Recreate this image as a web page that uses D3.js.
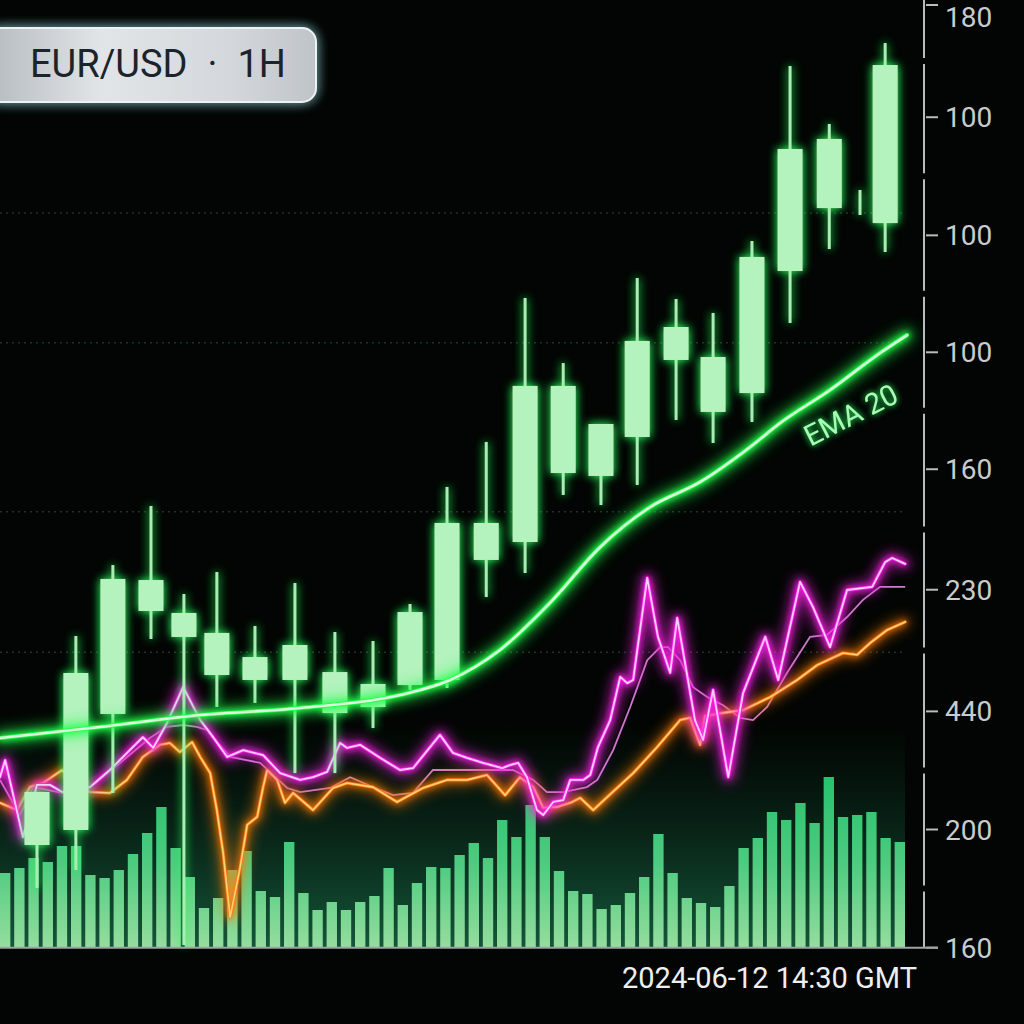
<!DOCTYPE html>
<html>
<head>
<meta charset="utf-8">
<script src="https://cdn.jsdelivr.net/npm/d3@7"></script>
<style>
  html, body { margin: 0; padding: 0; background: #010302; }
  svg { display: block; }
</style>
</head>
<body>
<div id="chart"></div>
<script>

// candles: hour slot and OHLC (price units)
let slots  = [0, 1.05, 2.05, 3.08, 3.97, 4.86, 5.89, 6.97, 8.05, 9.08, 10.08, 11.08, 12.14, 13.19, 14.22, 15.24, 16.22, 17.27, 18.27, 19.32, 20.35, 21.41, 22.24, 22.92];
let opens  = [8.89, 10.16, 19.98, 28.70, 26.50, 23.28, 22.86, 22.86, 20.06, 20.57, 22.43, 22.86, 33.02, 34.54, 40.38, 40.13, 43.43, 49.95, 45.55, 47.15, 57.48, 62.81, 63.3, 61.54];
let closes = [13.38, 23.45, 31.41, 31.32, 28.53, 26.84, 24.80, 25.82, 23.53, 22.52, 28.61, 36.15, 36.15, 47.75, 47.75, 44.53, 51.56, 52.74, 50.20, 58.67, 67.81, 68.66, 63.3, 74.92];
let highs  = [13.38, 26.58, 32.59, 37.59, 30.14, 32.0, 27.43, 31.07, 26.92, 26.16, 29.29, 39.20, 43.01, 55.20, 49.69, 44.53, 56.89, 55.11, 53.93, 60.02, 74.84, 69.93, 64.34, 76.78];
let lows   = [5.25, 6.77, 13.29, 26.33, 0.42, 20.57, 20.91, 14.98, 14.98, 18.79, 22.01, 22.18, 29.88, 31.92, 38.52, 37.67, 39.37, 44.87, 42.92, 44.70, 53.08, 59.34, 62.22, 59.09];

// EMA 20
let emaSlots  = [-1.0, 1.70, 4.41, 7.11, 9.81, 11.16, 12.51, 13.86, 15.22, 16.57, 17.92, 19.27, 20.08, 21.43, 22.78, 23.51];
let emaValues = [17.95, 18.88, 19.89, 20.49, 21.59, 22.86, 25.40, 29.38, 34.12, 37.50, 39.62, 42.58, 44.61, 47.41, 50.54, 52.06];

// oscillator (magenta), its signal (thin pink) and the orange line, 0-100
let magSlots  = [-1.00, -0.86, -0.38, 0, 0.35, 0.68, 1.43, 1.97, 2.86, 3.14, 3.51, 3.95, 4.41, 4.76, 5.14, 5.57, 6.11, 6.57, 7.11, 7.46, 7.84, 8.19, 8.38, 8.73, 9.27, 9.81, 10.16, 10.89, 11.24, 11.62, 12.05, 12.57, 12.78, 13.00, 13.24, 13.51, 13.68, 13.95, 14.22, 14.41, 14.76, 14.95, 15.16, 15.49, 15.76, 15.95, 16.11, 16.49, 16.78, 17.11, 17.30, 17.78, 18.00, 18.27, 18.68, 19.08, 19.68, 20.03, 20.62, 20.97, 21.43, 21.89, 22.57, 22.92, 23.11, 23.46];
let magValues = [38.4, 42.2, 25.1, 36.7, 36.7, 35.1, 36.2, 40.0, 47.3, 44.9, 50.4, 58.4, 51.1, 47.3, 42.9, 44.4, 43.3, 39.3, 37.8, 38.4, 39.6, 46.0, 44.9, 45.6, 42.7, 40.0, 40.4, 47.8, 43.8, 42.7, 41.6, 40.4, 41.1, 41.6, 38.4, 31.1, 30.0, 32.9, 33.3, 37.8, 37.8, 38.9, 45.1, 51.1, 60.7, 59.3, 60.0, 82.7, 69.6, 61.6, 73.8, 51.1, 46.7, 57.8, 38.4, 57.1, 69.6, 60.0, 81.8, 76.2, 67.3, 80.0, 80.7, 86.2, 87.1, 85.8];

let sigSlots  = [-1.00, -0.46, -0.11, 0.68, 1.43, 3.05, 3.51, 3.95, 4.32, 4.59, 5.22, 6.03, 6.76, 7.11, 7.92, 8.46, 9.08, 9.62, 10.16, 10.70, 11.35, 11.97, 12.86, 13.41, 13.78, 14.22, 14.86, 15.14, 15.57, 16.03, 16.49, 16.84, 17.05, 17.38, 17.73, 18.11, 18.54, 19.00, 19.35, 19.73, 20.27, 20.89, 21.35, 21.89, 22.32, 22.78, 23.46];
let sigValues = [37.8, 30.0, 36.2, 34.9, 36.0, 47.1, 49.6, 50.0, 49.6, 48.9, 42.9, 41.6, 36.0, 35.1, 36.0, 38.4, 36.2, 34.4, 34.9, 40.0, 40.0, 40.0, 40.0, 37.8, 35.1, 35.1, 36.2, 37.8, 44.4, 54.0, 64.4, 67.3, 67.3, 64.4, 58.4, 56.2, 54.4, 51.6, 51.1, 54.0, 61.6, 69.6, 70.0, 74.0, 77.8, 80.7, 80.7];

let orSlots  = [-1.00, -0.54, -0.19, 0.16, 0.68, 0.81, 1.43, 1.97, 2.43, 2.86, 3.32, 3.59, 3.86, 4.19, 4.41, 4.68, 4.86, 5.03, 5.22, 5.49, 5.68, 5.95, 6.11, 6.22, 6.49, 6.70, 6.92, 7.46, 8.00, 8.38, 9.08, 9.73, 10.43, 11.08, 11.62, 12.16, 12.65, 13.05, 13.41, 13.68, 14.05, 14.41, 14.68, 15.03, 15.41, 16.11, 16.76, 17.38, 17.65, 17.92, 18.05, 18.54, 19.08, 19.81, 20.54, 21.08, 21.78, 22.16, 22.51, 22.97, 23.46];
let orValues = [32.7, 31.1, 36.2, 37.1, 40.0, 38.9, 35.1, 34.9, 37.8, 42.9, 45.6, 46.0, 44.0, 46.2, 42.9, 39.3, 31.1, 21.6, 7.3, 18.4, 27.8, 29.6, 36.2, 40.0, 37.8, 32.7, 34.9, 31.1, 36.0, 37.1, 36.2, 32.9, 36.0, 37.8, 37.8, 38.9, 34.4, 38.4, 36.2, 31.6, 31.8, 32.7, 33.8, 31.1, 34.0, 39.3, 45.1, 51.1, 51.6, 45.6, 52.0, 52.7, 53.3, 56.2, 60.0, 63.3, 66.0, 65.6, 68.2, 71.1, 72.9];

// volume bars
let volumes = [750, 800, 900, 860, 1020, 1020, 730, 700, 780, 940,
               1150, 1410, 1000, 710, 400, 500, 780, 970, 570, 510,
               1060, 550, 380, 460, 380, 460, 520, 800, 430, 650,
               810, 800, 930, 1050, 900, 1280, 1110, 1430, 1110, 770,
               570, 540, 390, 430, 550, 710, 1140, 750, 500, 450,
               410, 620, 1000, 1100, 1360, 1280, 1450, 1250, 1710, 1310,
               1330, 1360, 1100, 1060];

// right axis
let tickValues = [0.2, 10.2, 20.2, 30.5, 40.7, 50.6, 60.5, 70.5, 80];
let tickLabels = ["160", "200", "440", "230", "160", "100", "100", "100", "180"];
let gridValues = [25.2, 37.1, 51.4, 62.4];

let title = "EUR/USD";
let timeframe = "1H";
let stamp = "2024-06-12 14:30 GMT";
let emaLabel = "EMA 20";

let width = 1024, height = 1024,
    axisX = 924;

let svg = d3.select("#chart").append("svg")
    .attr("width", width)
    .attr("height", height);

let x = d3.scaleLinear().domain([-1, 23.51]).range([0, 907]),
    y = d3.scaleLinear().domain([0, 80]).range([950, 5]),
    yOsc = d3.scaleLinear().domain([0, 100]).range([950, 500]),
    xVol = d3.scaleBand().domain(d3.range(volumes.length)).range([0, 905]).paddingInner(0.27),
    yVol = d3.scaleLinear().domain([0, 2000]).range([948, 748]);

let defs = svg.append("defs");

// glow filters in user space so thin vertical lines still render
function glow(id, color, sd, opacity) {
    let f = defs.append("filter").attr("id", id)
        .attr("filterUnits", "userSpaceOnUse")
        .attr("x", 0).attr("y", 0).attr("width", width).attr("height", height);
    f.append("feGaussianBlur").attr("in", "SourceAlpha").attr("stdDeviation", sd).attr("result", "b");
    f.append("feFlood").attr("flood-color", color).attr("flood-opacity", opacity);
    f.append("feComposite").attr("in2", "b").attr("operator", "in").attr("result", "g");
    let m = f.append("feMerge");
    m.append("feMergeNode").attr("in", "g");
    m.append("feMergeNode").attr("in", "g");
    m.append("feMergeNode").attr("in", "SourceGraphic");
}
function blur(id, sd) {
    defs.append("filter").attr("id", id)
        .attr("filterUnits", "userSpaceOnUse")
        .attr("x", 0).attr("y", 0).attr("width", width).attr("height", height)
        .append("feGaussianBlur").attr("stdDeviation", sd);
}
glow("glowCandle", "#2bff5c", 5, 0.65);
glow("glowText", "#30ff60", 3, 0.6);
glow("glowBox", "#6fa0a8", 6, 0.7);
blur("blur3", 3);
blur("blur6", 7);

let volGrad = defs.append("linearGradient").attr("id", "volGrad")
    .attr("gradientUnits", "userSpaceOnUse")
    .attr("x1", 0).attr("y1", 760).attr("x2", 0).attr("y2", 948);
volGrad.append("stop").attr("offset", 0).attr("stop-color", "#22cc70");
volGrad.append("stop").attr("offset", 0.55).attr("stop-color", "#52d586");
volGrad.append("stop").attr("offset", 1).attr("stop-color", "#9ee6a5");

let panelGrad = defs.append("linearGradient").attr("id", "panelGrad")
    .attr("x1", 0).attr("y1", 0).attr("x2", 0).attr("y2", 1);
panelGrad.append("stop").attr("offset", 0).attr("stop-color", "#0b3a23").attr("stop-opacity", 0);
panelGrad.append("stop").attr("offset", 1).attr("stop-color", "#166040").attr("stop-opacity", 0.9);

let boxGrad = defs.append("linearGradient").attr("id", "boxGrad")
    .attr("x1", 0).attr("y1", 0).attr("x2", 1).attr("y2", 0);
boxGrad.append("stop").attr("offset", 0).attr("stop-color", "#b4babf");
boxGrad.append("stop").attr("offset", 0.35).attr("stop-color", "#e2e5e8");
boxGrad.append("stop").attr("offset", 0.75).attr("stop-color", "#d3d7db");
boxGrad.append("stop").attr("offset", 1).attr("stop-color", "#bfc4c8");

// background
svg.append("rect").attr("width", width).attr("height", height).attr("fill", "#020503");

// volume panel
svg.append("rect")
    .attr("x", 0).attr("y", 722)
    .attr("width", xVol.range()[1]).attr("height", 948 - 722)
    .attr("fill", "url(#panelGrad)");

svg.append("g").selectAll("rect")
    .data(volumes)
    .join("rect")
    .attr("x", (d, i) => xVol(i))
    .attr("y", d => yVol(d))
    .attr("width", xVol.bandwidth())
    .attr("height", d => yVol(0) - yVol(d))
    .attr("fill", "url(#volGrad)")
    .attr("opacity", 0.94);

// faint dotted grid
svg.append("g").selectAll("line")
    .data(gridValues)
    .join("line")
    .attr("x1", 0).attr("x2", 905)
    .attr("y1", d => y(d)).attr("y2", d => y(d))
    .attr("stroke", "#1d3327")
    .attr("stroke-width", 1.5)
    .attr("stroke-dasharray", "2,4");

// neon line helper
function neon(xs, vs, yScale, curve, outer, core, wide, thin) {
    let pts = d3.zip(xs, vs);
    let gen = d3.line().x(d => x(d[0])).y(d => yScale(d[1])).curve(curve);
    let g = svg.append("g").attr("fill", "none")
        .attr("stroke-linejoin", "round").attr("stroke-linecap", "round");
    g.append("path").datum(pts).attr("d", gen)
        .attr("stroke", outer).attr("stroke-width", wide * 2.4)
        .attr("opacity", 0.6).attr("filter", "url(#blur6)");
    g.append("path").datum(pts).attr("d", gen)
        .attr("stroke", outer).attr("stroke-width", wide)
        .attr("filter", "url(#blur3)");
    g.append("path").datum(pts).attr("d", gen)
        .attr("stroke", outer).attr("stroke-width", thin + 1.5);
    g.append("path").datum(pts).attr("d", gen)
        .attr("stroke", core).attr("stroke-width", thin);
    return g;
}

// signal (thin), oscillator, orange
svg.append("path")
    .datum(d3.zip(sigSlots, sigValues))
    .attr("d", d3.line().x(d => x(d[0])).y(d => yOsc(d[1])))
    .attr("fill", "none")
    .attr("stroke", "#e48ae6")
    .attr("stroke-width", 1.8)
    .attr("opacity", 0.9);
neon(orSlots, orValues, yOsc, d3.curveLinear, "#ff7a10", "#ffd27a", 4, 1.6);
neon(magSlots, magValues, yOsc, d3.curveLinear, "#ff22ea", "#ffd0ff", 4.5, 1.8);

// candles
let candles = slots.map((s, i) => ({s: s, o: opens[i], c: closes[i], h: highs[i], l: lows[i]}));
let bodyW = 25;
let cg = svg.append("g").attr("filter", "url(#glowCandle)");
cg.selectAll("line")
    .data(candles)
    .join("line")
    .attr("x1", d => x(d.s)).attr("x2", d => x(d.s))
    .attr("y1", d => y(d.h)).attr("y2", d => y(d.l))
    .attr("stroke", "#a6eeb2")
    .attr("stroke-width", 3);
cg.selectAll("rect")
    .data(candles.filter(d => Math.abs(d.c - d.o) > 0.2))
    .join("rect")
    .attr("x", d => x(d.s) - bodyW / 2)
    .attr("y", d => y(Math.max(d.o, d.c)))
    .attr("width", bodyW)
    .attr("height", d => y(Math.min(d.o, d.c)) - y(Math.max(d.o, d.c)))
    .attr("fill", "#b4f2be");

// EMA 20
neon(emaSlots, emaValues, y, d3.curveMonotoneX, "#22ff4a", "#dcffdc", 6, 2.6);

svg.append("g")
    .attr("filter", "url(#glowText)")
    .append("text")
    .attr("transform", "translate(" + x(20.9) + "," + y(42.6) + ") rotate(-27)")
    .attr("font-family", "Roboto, 'Noto Sans', sans-serif")
    .attr("font-size", 29)
    .attr("fill", "#a4ffb4")
    .text(emaLabel);

// right axis: broken spine, ticks, labels
let tickY = tickValues.map(v => y(v));
let segs = tickY.map((t, i) => {
    let top = i === tickY.length - 1 ? 0 : (t + tickY[i + 1]) / 2 + 3;
    let bottom = i === 0 ? t : (t + tickY[i - 1]) / 2 - 3;
    return [top, bottom];
});
let axis = svg.append("g").attr("stroke", "#b9bcbd");
axis.selectAll("line.spine")
    .data(segs)
    .join("line")
    .attr("class", "spine")
    .attr("x1", axisX).attr("x2", axisX)
    .attr("y1", d => d[0]).attr("y2", d => d[1])
    .attr("stroke-width", 2);
axis.selectAll("line.tick")
    .data(tickY)
    .join("line")
    .attr("class", "tick")
    .attr("x1", axisX + 2).attr("x2", axisX + 14)
    .attr("y1", d => d).attr("y2", d => d)
    .attr("stroke-width", 2);
svg.append("line")
    .attr("x1", 0).attr("x2", axisX + 14)
    .attr("y1", tickY[0]).attr("y2", tickY[0])
    .attr("stroke", "#9ea3a3").attr("stroke-width", 2);
svg.append("g").selectAll("text")
    .data(tickLabels)
    .join("text")
    .attr("x", axisX + 21)
    .attr("y", (d, i) => Math.max(tickY[i], 17))
    .attr("dy", "0.36em")
    .attr("font-family", "Roboto, 'Noto Sans', sans-serif")
    .attr("font-size", 28)
    .attr("fill", "#c9cccd")
    .text(d => d);

// timestamp
svg.append("text")
    .attr("x", 917).attr("y", 988)
    .attr("text-anchor", "end")
    .attr("font-family", "Roboto, 'Noto Sans', sans-serif")
    .attr("font-size", 29)
    .attr("fill", "#eef0f0")
    .text(stamp);

// symbol badge
svg.append("rect")
    .attr("x", -14).attr("y", 28)
    .attr("width", 330).attr("height", 74)
    .attr("rx", 14)
    .attr("fill", "url(#boxGrad)")
    .attr("stroke", "#eef1f3")
    .attr("stroke-width", 2)
    .attr("filter", "url(#glowBox)");
let label = svg.append("text")
    .attr("x", 30).attr("y", 77)
    .attr("font-family", "Roboto, 'Noto Sans', sans-serif")
    .attr("font-size", 38)
    .attr("fill", "#1c242b");
label.append("tspan").text(title);
label.append("tspan").attr("dx", 20).text("·");
label.append("tspan").attr("dx", 20).text(timeframe);

</script>
</body>
</html>
